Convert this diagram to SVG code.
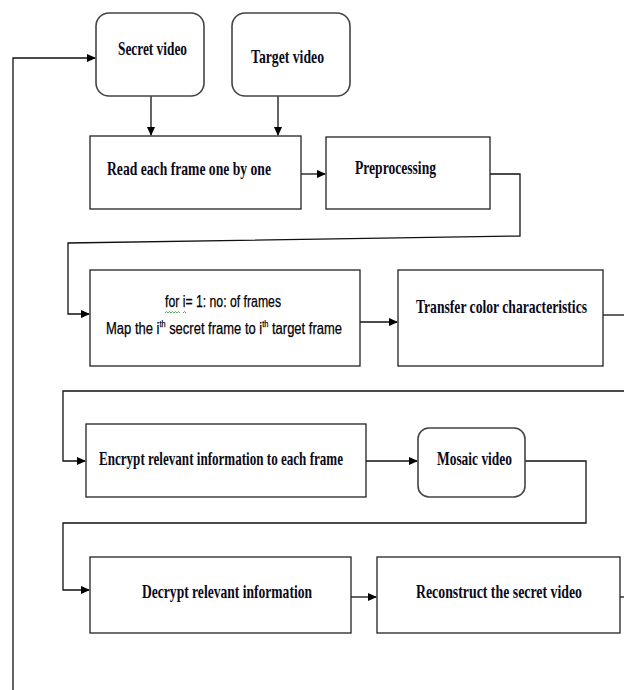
<svg xmlns="http://www.w3.org/2000/svg" width="624" height="690" viewBox="0 0 624 690">
<style>
.box{fill:#fff;stroke:#222;stroke-width:1.3}
.rbox{fill:#fff;stroke:#444;stroke-width:1.6}
.t{font-family:"Liberation Serif","Times New Roman",serif;font-weight:bold;font-size:19px;fill:#0a0a1a}
.c{font-family:"Liberation Sans",Arial,sans-serif;font-size:16px;fill:#000;stroke:#000;stroke-width:0.25}
.ln{fill:none;stroke:#111;stroke-width:1.3}
</style>
<defs>
<marker id="ah" markerWidth="9" markerHeight="8" refX="8" refY="4" orient="auto" markerUnits="userSpaceOnUse">
<path d="M0,0 L9,4 L0,8 Z" fill="#000"/>
</marker>
</defs>
<rect width="624" height="690" fill="#fff"/>
<g id="connectors">
<path class="ln" d="M13,690 V58 H95" marker-end="url(#ah)"/>
<path class="ln" d="M151,96 V135" marker-end="url(#ah)"/>
<path class="ln" d="M278,96 V135" marker-end="url(#ah)"/>
<path class="ln" d="M301,174 H325" marker-end="url(#ah)"/>
<path class="ln" d="M490,174 H520 V236 L68,243 V314 H89" marker-end="url(#ah)"/>
<path class="ln" d="M360,322 H397" marker-end="url(#ah)"/>
<path class="ln" d="M603,315 H624"/>
<path class="ln" d="M624,391 H63 V461 H85" marker-end="url(#ah)"/>
<path class="ln" d="M366,461 H417" marker-end="url(#ah)"/>
<path class="ln" d="M525,461 H586 V523 H63 V590 H89" marker-end="url(#ah)"/>
<path class="ln" d="M351,597 H376" marker-end="url(#ah)"/>
<path class="ln" d="M620,597 H624"/>
</g>
<g id="secret-video">
<rect class="rbox" x="96" y="13" width="108" height="83" rx="13"/>
<text class="t" x="118" y="55" textLength="69" lengthAdjust="spacingAndGlyphs">Secret video</text>
</g>
<g id="target-video">
<rect class="rbox" x="232" y="13" width="118" height="83" rx="13"/>
<text class="t" x="251" y="63" textLength="73" lengthAdjust="spacingAndGlyphs">Target video</text>
</g>
<g id="read-frames">
<rect class="box" x="90" y="136" width="211" height="73"/>
<text class="t" x="107" y="175" textLength="164" lengthAdjust="spacingAndGlyphs">Read each frame one by one</text>
</g>
<g id="preprocessing">
<rect class="box" x="326" y="137" width="164" height="72"/>
<text class="t" x="355" y="174" textLength="81" lengthAdjust="spacingAndGlyphs">Preprocessing</text>
</g>
<g id="map-frames">
<rect class="box" x="90" y="270" width="270" height="96"/>
<text class="c" x="165" y="307" textLength="116" lengthAdjust="spacingAndGlyphs">for i= 1: no: of frames</text>
<path d="M165,313 l1.5,-1.5 l1.5,1.5 l1.5,-1.5 l1.5,1.5 l1.5,-1.5 l1.5,1.5 l1.5,-1.5 l1.5,1.5 l1.5,-1.5 l1.5,1.5" fill="none" stroke="#2a9a2a" stroke-width="0.8"/>
<path d="M183,313 l1.5,-1.5 l1.5,1.5" fill="none" stroke="#d22" stroke-width="0.8"/>
<text class="c" x="106" y="334" textLength="236" lengthAdjust="spacingAndGlyphs">Map the i<tspan font-size="9" dy="-7">th</tspan><tspan dy="7"> secret frame to i</tspan><tspan font-size="9" dy="-7">th</tspan><tspan dy="7"> target frame</tspan></text>
</g>
<g id="transfer-color">
<rect class="box" x="398" y="270" width="205" height="96"/>
<text class="t" x="416" y="313" textLength="171" lengthAdjust="spacingAndGlyphs">Transfer color characteristics</text>
</g>
<g id="encrypt">
<rect class="box" x="86" y="424" width="280" height="73"/>
<text class="t" x="99" y="465" textLength="244" lengthAdjust="spacingAndGlyphs">Encrypt relevant information to each frame</text>
</g>
<g id="mosaic-video">
<rect class="rbox" x="418" y="428" width="107" height="69" rx="11"/>
<text class="t" x="437" y="465" textLength="75" lengthAdjust="spacingAndGlyphs">Mosaic video</text>
</g>
<g id="decrypt">
<rect class="box" x="90" y="557" width="261" height="76"/>
<text class="t" x="142" y="598" textLength="170" lengthAdjust="spacingAndGlyphs">Decrypt relevant information</text>
</g>
<g id="reconstruct">
<rect class="box" x="377" y="557" width="243" height="76"/>
<text class="t" x="416" y="598" textLength="166" lengthAdjust="spacingAndGlyphs">Reconstruct the secret video</text>
</g>
</svg>
